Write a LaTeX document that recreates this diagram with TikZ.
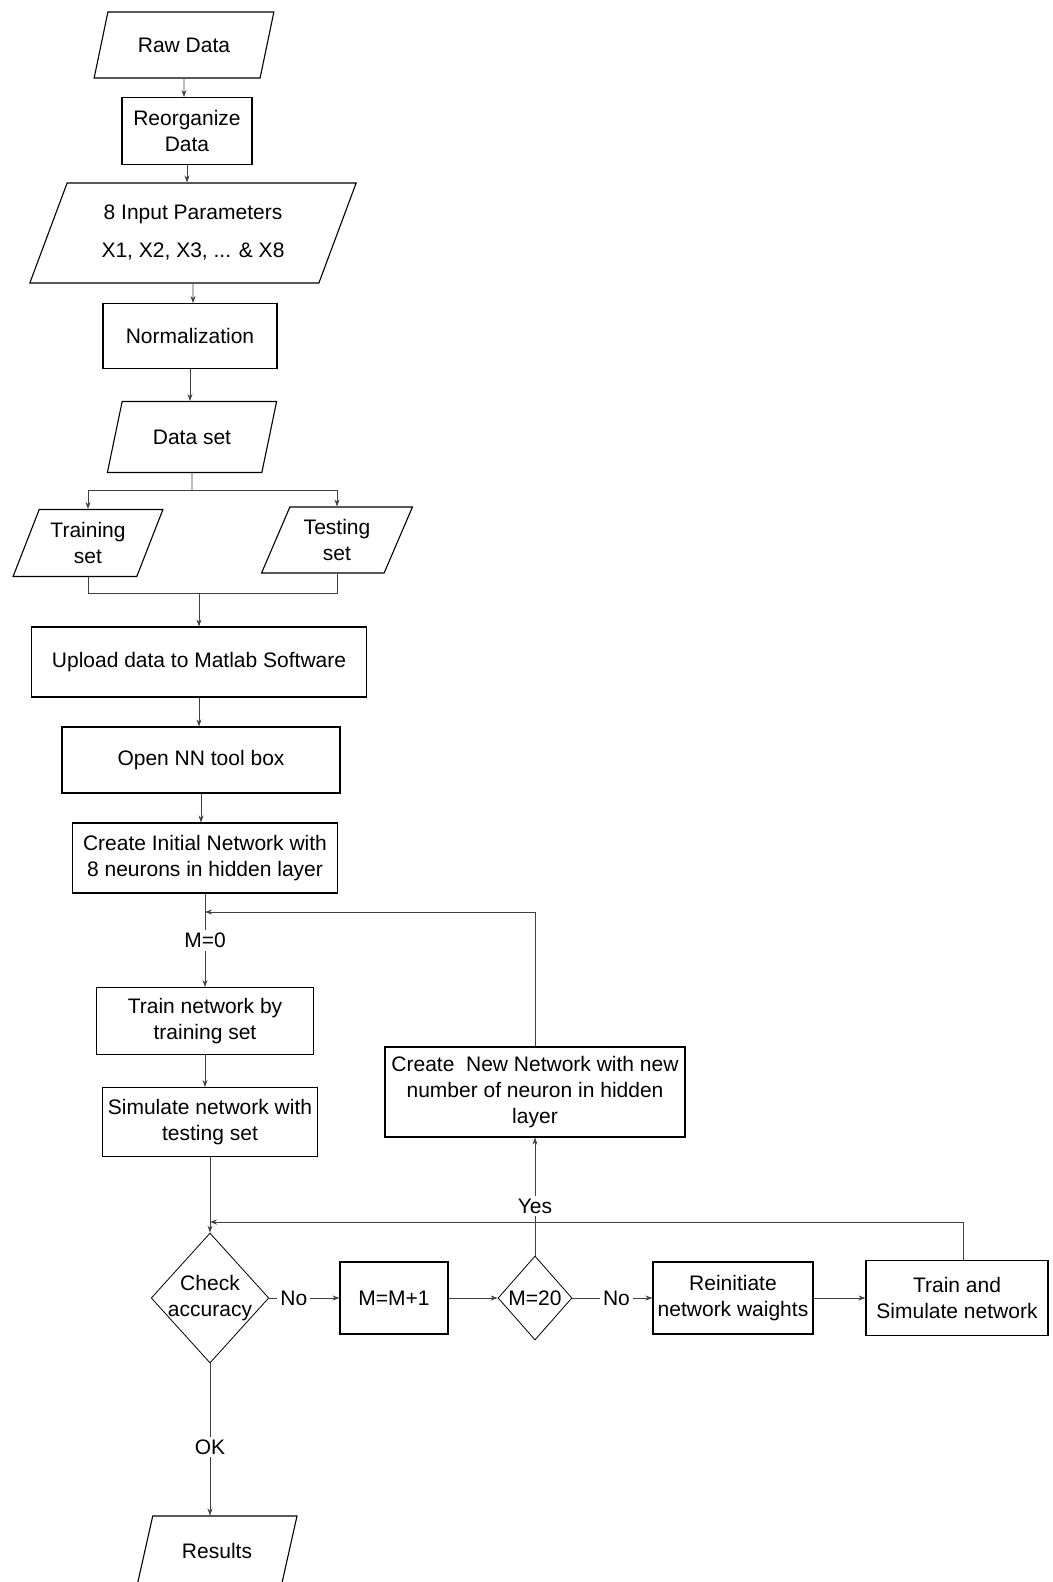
\documentclass[tikz,border=0pt]{standalone}
\usepackage{fontspec}
\setmainfont{Liberation Sans}
\usetikzlibrary{shapes.geometric,arrows.meta}
\begin{document}
\begin{tikzpicture}[x=1pt,y=-1pt,
    font=\fontsize{21}{26}\selectfont,
    box/.style={draw, rectangle, line width=1.1pt, fill=white, align=center, inner sep=2pt},
    io/.style={draw, trapezium, trapezium left angle=65, trapezium right angle=115,
      trapezium stretches=true, line width=1.1pt, fill=white, align=center, inner sep=2pt},
    decision/.style={draw, diamond, line width=0.8pt, fill=white, align=center, inner sep=-3pt},
    conn/.style={line width=0.8pt, black!75},
    arr/.style={conn, -{Stealth[length=7pt,width=5pt]}},
    lbl/.style={fill=white, text=black, inner sep=3pt}]
    \useasboundingbox (0,0) rectangle (1052,1582);
    % main column
    \node[io, minimum width=180pt, minimum height=66pt] (raw) at (184,45) {Raw Data};
    \node[box, minimum width=130pt, minimum height=67pt] (reorg) at (187,131) {Reorganize\\Data};
    \node[io, minimum width=327pt, minimum height=100pt] (input) at (193,233)
      {8 Input Parameters\\[12pt]X1, X2, X3, ... \& X8};
    \node[box, minimum width=174pt, minimum height=65pt] (norm) at (190,336) {Normalization};
    \node[io, minimum width=170pt, minimum height=71pt] (dset) at (192,437) {Data set};
    \node[io, minimum width=150pt, minimum height=67pt] (train) at (88,543) {Training\\set};
    \node[io, minimum width=151pt, minimum height=66pt] (test) at (337,540) {Testing\\set};
    \node[box, minimum width=335pt, minimum height=70pt] (upload) at (199,662) {Upload data to Matlab Software};
    \node[box, minimum width=278pt, minimum height=66pt] (opennn) at (201,760) {Open NN tool box};
    \node[box, minimum width=265pt, minimum height=70pt] (init) at (205,858)
      {Create Initial Network with\\8 neurons in hidden layer};
    \node[box, minimum width=217pt, minimum height=67pt] (trainnet) at (205,1021) {Train network by\\training set};
    \node[box, minimum width=215pt, minimum height=69pt] (simnet) at (210,1122)
      {Simulate network with\\testing set};
    \node[box, minimum width=300pt, minimum height=90pt] (newnet) at (535,1092)
      {Create\ \ New Network with new\\number of neuron in hidden\\layer};
    % decision row
    \node[decision, minimum width=112pt, minimum height=130pt] (check) at (210,1298) {Check\\accuracy};
    \node[box, minimum width=108pt, minimum height=72pt] (inc) at (394,1298) {M=M+1};
    \node[decision, minimum width=74pt, minimum height=84pt] (mtwenty) at (535,1298) {M=20};
    \node[box, minimum width=160pt, minimum height=72pt] (reinit) at (733,1298) {Reinitiate\\network waights};
    \node[box, minimum width=182pt, minimum height=75pt] (trsim) at (957,1298) {Train and\\Simulate network};
    \node[io, minimum width=161pt, minimum height=70pt] (res) at (217,1551) {Results};
    \coordinate (split) at (192,490);
    \coordinate (merge) at (199,593);
    \coordinate (loopin) at (205,912);
    \coordinate (loopback) at (210,1222);
    % connectors
    \draw[arr] (raw) -- (raw |- reorg.north);
    \draw[arr] (reorg) -- (reorg |- input.north);
    \draw[arr] (input) -- (input |- norm.north);
    \draw[arr] (norm) -- (norm |- dset.north);
    \draw[conn] (dset.south) -- (split);
    \draw[arr] (split) -| (train.north);
    \draw[arr] (split) -| (test.north);
    \draw[conn] (train.south) |- (merge);
    \draw[conn] (test.south) |- (merge);
    \draw[arr] (merge) -- (merge |- upload.north);
    \draw[arr] (upload) -- (upload |- opennn.north);
    \draw[arr] (opennn) -- (opennn |- init.north);
    \draw[arr] (init.south) -- node[lbl, pos=0.5] (mzero) {M=0} (trainnet.north);
    \draw[arr] (trainnet) -- (trainnet |- simnet.north);
    \draw[arr] (simnet.south) -- (check.north);
    \draw[arr] (check.east) -- node[lbl, pos=0.35] (no1) {No} (inc.west);
    \draw[arr] (inc.east) -- (mtwenty.west);
    \draw[arr] (mtwenty.east) -- node[lbl, pos=0.55] (no2) {No} (reinit.west);
    \draw[arr] (reinit.east) -- (trsim.west);
    \draw[arr] (mtwenty.north) -- node[lbl, pos=0.42] (yes) {Yes} (newnet.south);
    \draw[arr] (newnet.north) |- (loopin);
    \draw[arr] ([xshift=6pt]trsim.north) |- (loopback);
    \draw[arr] (check.south) -- node[lbl, pos=0.55] (ok) {OK} (check.south |- res.north);
\end{tikzpicture}
\end{document}
